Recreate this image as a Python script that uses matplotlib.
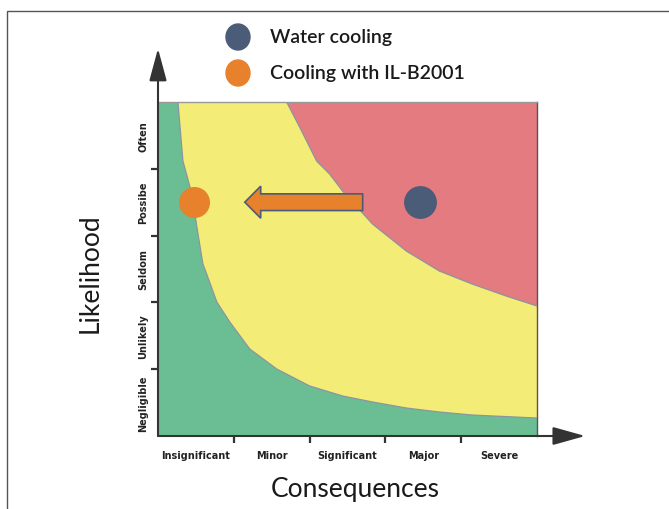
import matplotlib
matplotlib.use("Agg")
import matplotlib.pyplot as plt
from matplotlib.patches import FancyArrow, Rectangle, Ellipse

# ---- data ----
consequences = ["Insignificant", "Minor", "Significant", "Major", "Severe"]
likelihood = ["Negligible", "Unlikely", "Seldom", "Possibe", "Often"]

# green / yellow boundary (consequence, likelihood)
green_x = [0.263, 0.329, 0.447, 0.513, 0.592, 0.618, 0.776, 0.947, 1.211, 1.566,
           2.0, 2.434, 2.829, 3.276, 3.711, 4.145, 5.0]
green_y = [5.0, 4.117, 3.623, 3.129, 2.575, 2.5, 2.006, 1.707, 1.302, 1.003,
           0.749, 0.599, 0.509, 0.419, 0.359, 0.314, 0.269]
# yellow / red boundary
red_x = [1.697, 1.868, 2.092, 2.263, 2.434, 2.829, 3.276, 3.711, 4.145, 4.592, 5.0]
red_y = [5.0, 4.626, 4.117, 3.922, 3.668, 3.174, 2.769, 2.470, 2.275, 2.096, 1.946]

water_pt = (3.45, 3.5)
il_pt = (0.48, 3.5)
series_names = ["Water cooling", "Cooling with IL-B2001"]

GREEN = "#6BBE93"
YELLOW = "#F3EC77"
RED = "#E47B80"
ORANGE = "#E8812B"
BLUE = "#4B5C78"
FONT = ["Lato", "DejaVu Sans"]

fig = plt.figure(figsize=(6.69, 5.10), dpi=100)
# outer frame
fig.patches.append(Rectangle((7 / 669, -0.05), 1.1, 1 - 12 / 510 + 0.05,
                             transform=fig.transFigure, fill=False,
                             edgecolor="#555555", lw=1.0))

ax = fig.add_axes([158 / 669, 73 / 510, 379 / 669, 334 / 510])
ax.set_xlim(0, 5)
ax.set_ylim(0, 5)

# zones
ax.fill([0, 5, 5, 0], [0, 0, 5, 5], color=YELLOW, zorder=1, lw=0)
ax.fill([0] + green_x + [5, 0], [5] + green_y + [0, 0], color=GREEN,
        zorder=2, lw=0)
ax.fill(red_x + [5], red_y + [5], color=RED, zorder=2, lw=0)
ax.plot(green_x, green_y, color="#8C94A0", lw=0.9, zorder=3)
ax.plot(red_x, red_y, color="#8C94A0", lw=0.9, zorder=3)

# arrow between points
ax.add_patch(FancyArrow(2.70, 3.5, -(2.70 - 1.145), 0, width=0.25,
                        head_width=0.48, head_length=0.21,
                        length_includes_head=True, facecolor=ORANGE,
                        edgecolor=BLUE, lw=1.2, zorder=5))
ax.scatter([water_pt[0]], [water_pt[1]], s=560, color=BLUE, zorder=6, lw=0)
ax.scatter([il_pt[0]], [il_pt[1]], s=500, color=ORANGE, zorder=6, lw=0)

# spines
for s in ["left", "bottom"]:
    ax.spines[s].set_visible(False)
ax.spines["top"].set_color("#999999")
ax.spines["top"].set_linewidth(1.0)
ax.spines["right"].set_color("#555555")
ax.spines["right"].set_linewidth(1.0)

# axis arrows
ax.annotate("", xy=(0, 1.16), xytext=(0, 0), xycoords="axes fraction",
            arrowprops=dict(arrowstyle="-|>,head_length=1.0,head_width=0.27",
                            mutation_scale=20, color="#333333", lw=1.5,
                            shrinkA=0, shrinkB=0), annotation_clip=False)
ax.annotate("", xy=(1.127, 0), xytext=(0, 0), xycoords="axes fraction",
            arrowprops=dict(arrowstyle="-|>,head_length=1.0,head_width=0.28",
                            mutation_scale=20, color="#333333", lw=1.5,
                            shrinkA=0, shrinkB=0), annotation_clip=False)

# ticks
ax.set_xticks([1, 2, 3, 4])
ax.set_yticks([1, 2, 3, 4])
ax.set_xticklabels([])
ax.set_yticklabels([])
ax.tick_params(axis="both", which="major", direction="out", length=5,
               width=1.6, color="#333333")
ax.set_xticks([0.5, 1.5, 2.5, 3.5, 4.5], minor=True)
ax.set_yticks([0.5, 1.5, 2.5, 3.5, 4.5], minor=True)
ax.set_xticklabels(consequences, minor=True, fontsize=7, fontweight="bold",
                   color="#222222")
ax.set_yticklabels(likelihood, minor=True, fontsize=7, fontweight="bold",
                   color="#222222", rotation=90, va="center")
ax.tick_params(axis="both", which="minor", length=0)
ax.tick_params(axis="x", which="minor", pad=10)
ax.tick_params(axis="y", which="minor", pad=7)
for t in ax.get_xticklabels(minor=True) + ax.get_yticklabels(minor=True):
    t.set_family(["DejaVu Sans"])

# axis titles
fig.text(90 / 669, 1 - 273 / 510, "Likelihood", rotation=90, ha="center",
         va="center", fontsize=19, family=FONT, color="#1a1a1a")
fig.text(355 / 669, 1 - 490 / 510, "Consequences", ha="center", va="center",
         fontsize=19, family=FONT, color="#1a1a1a")

# legend
legend_colors = [BLUE, ORANGE]
legend_y = [38, 74]
for name, c, yy in zip(series_names, legend_colors, legend_y):
    fig.patches.append(Ellipse((238 / 669, 1 - yy / 510),
                               24 / 669, 26 / 510, transform=fig.transFigure,
                               color=c))
    fig.text(270 / 669, 1 - yy / 510, name, ha="left", va="center",
             fontsize=14, family=FONT, fontweight="semibold", color="#1a1a1a")

fig.savefig("out.png", dpi=100)
